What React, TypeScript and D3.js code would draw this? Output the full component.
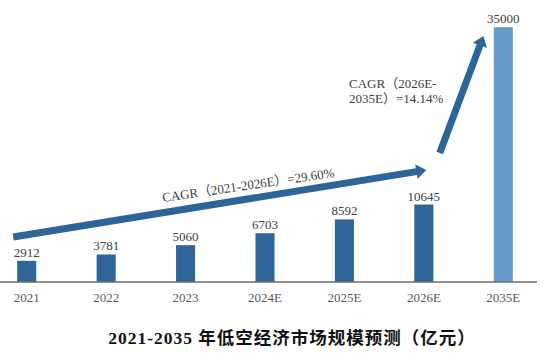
import React from "react";
import * as d3 from "d3";

const categories = ["2021", "2022", "2023", "2024E", "2025E", "2026E", "2035E"];
const values = [2912, 3781, 5060, 6703, 8592, 10645, 35000];
const highlighted = ["2035E"];
const titleText = "2021-2035 年低空经济市场规模预测（亿元）";
const cagrShort = "CAGR（2021-2026E）=29.60%";
const cagrLongLines = ["CAGR（2026E-", "2035E）=14.14%"];
// arrows in data space: [category index position, value]
const arrowStarts: [number, number][] = [[-0.17, 6180], [5.2, 17720]];
const arrowEnds: [number, number][] = [[5.03, 15385], [5.75, 33790]];
// annotation anchors in data space
const cagrShortAnchor: [number, number] = [1.715, 10990];
const cagrLongAnchor: [number, number] = [4.058, 26650];

const W = 554;
const H = 357;

function arrowPath(x1: number, y1: number, x2: number, y2: number, t: number, hw: number, hl: number) {
  const dx = x2 - x1, dy = y2 - y1;
  const len = Math.hypot(dx, dy);
  const ux = dx / len, uy = dy / len;
  const px = -uy, py = ux;
  const bx = x2 - ux * hl, by = y2 - uy * hl;
  const pts: [number, number][] = [
    [x1 + px * t / 2, y1 + py * t / 2],
    [bx + px * t / 2, by + py * t / 2],
    [bx + px * hw / 2, by + py * hw / 2],
    [x2, y2],
    [bx - px * hw / 2, by - py * hw / 2],
    [bx - px * t / 2, by - py * t / 2],
    [x1 - px * t / 2, y1 - py * t / 2],
  ];
  return "M" + pts.map((p) => p.join(",")).join("L") + "Z";
}

export default function App() {
  const x = d3.scaleBand<string>().domain(categories).range([-13, 543]).paddingInner(0.76).paddingOuter(0.38);
  const y = d3.scaleLinear().domain([0, 35000]).range([282, 27.2]);
  const bw = x.bandwidth();
  const xi = d3
    .scaleLinear()
    .domain([0, categories.length - 1])
    .range([(x(categories[0]) as number) + bw / 2, (x(categories[categories.length - 1]) as number) + bw / 2]);

  const serif = "'Liberation Serif', 'Noto Sans CJK SC', serif";
  const darkBlue = "#30659a";
  const lightBlue = "#6699cc";
  const arrowColor = "#2e6598";

  return (
    <div style={{ position: "fixed", left: 0, top: 0, width: W, height: H, background: "#fff" }}>
      <svg width={W} height={H} style={{ display: "block" }}>
        {categories.map((c, i) => (
          <rect
            key={c}
            x={x(c)}
            y={y(values[i])}
            width={bw}
            height={y(0) - y(values[i])}
            fill={highlighted.includes(c) ? lightBlue : darkBlue}
          />
        ))}
        <line x1={0} x2={537} y1={y(0)} y2={y(0)} stroke="#6b6b6b" strokeWidth={1.5} />
        {categories.map((c, i) => (
          <text
            key={"v" + c}
            x={(x(c) as number) + bw / 2}
            y={y(values[i]) - 4}
            textAnchor="middle"
            fontFamily={serif}
            fontSize={13}
            fill="#404040"
          >
            {values[i]}
          </text>
        ))}
        {categories.map((c) => (
          <text
            key={"t" + c}
            x={(x(c) as number) + bw / 2}
            y={302}
            textAnchor="middle"
            fontFamily={serif}
            fontSize={13}
            fill="#595959"
          >
            {c}
          </text>
        ))}
        {arrowStarts.map((s, i) => (
          <path
            key={"a" + i}
            d={arrowPath(xi(s[0]), y(s[1]), xi(arrowEnds[i][0]), y(arrowEnds[i][1]), 7, 15, 10)}
            fill={arrowColor}
          />
        ))}
        <text
          x={xi(cagrShortAnchor[0])}
          y={y(cagrShortAnchor[1])}
          transform={`rotate(-8.3, ${xi(cagrShortAnchor[0])}, ${y(cagrShortAnchor[1])})`}
          fontFamily={serif}
          fontSize={13}
          fill="#404040"
        >
          {cagrShort}
        </text>
        <text x={xi(cagrLongAnchor[0])} y={y(cagrLongAnchor[1])} fontFamily={serif} fontSize={13} fill="#404040">
          {cagrLongLines.map((l, i) => (
            <tspan key={i} x={xi(cagrLongAnchor[0])} dy={i === 0 ? 0 : 15.5}>
              {l}
            </tspan>
          ))}
        </text>
        <text
          x={292}
          y={344}
          textAnchor="middle"
          fontFamily={serif}
          fontSize={17.5}
          fontWeight={700}
          letterSpacing={1}
          fill="#111"
        >
          {titleText}
        </text>
      </svg>
    </div>
  );
}
